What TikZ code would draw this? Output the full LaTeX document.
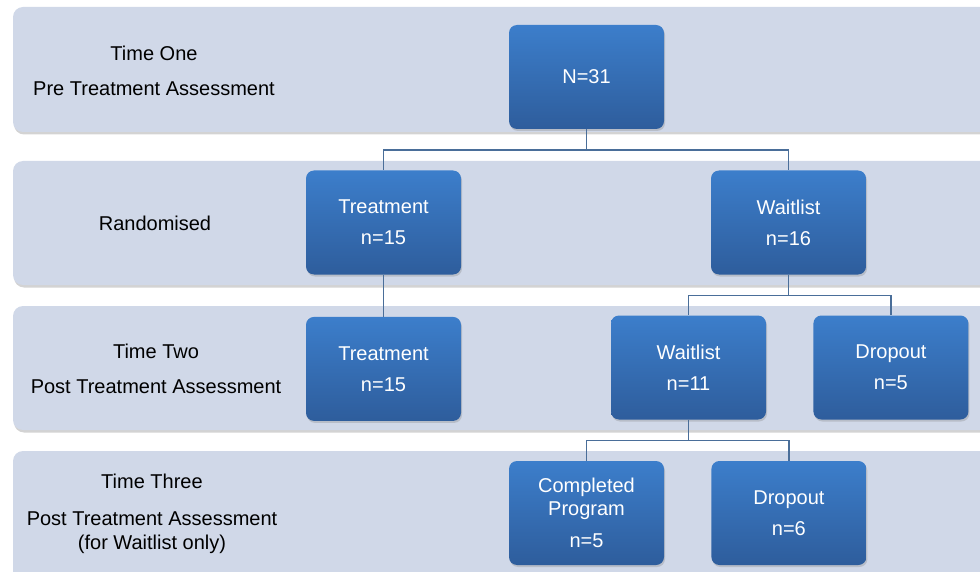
\documentclass[tikz,border=0pt]{standalone}
\usepackage{fontspec}
\setmainfont{Liberation Sans}
\usepackage{tikz}
\usetikzlibrary{positioning,shadows}

\definecolor{bandfill}{HTML}{D0D8E8}
\definecolor{boxtop}{HTML}{3C7ECB}
\definecolor{boxbottom}{HTML}{2E5D9C}
\definecolor{linkcol}{HTML}{4A6E99}

\begin{document}
\begin{tikzpicture}[
    x=1pt, y=-1pt,
    node distance=42pt,
    band/.style={fill=bandfill, rounded corners=10pt,
        drop shadow={opacity=0.35, shadow xshift=1pt, shadow yshift=-2.5pt}},
    box/.style={rectangle, rounded corners=8pt, top color=boxtop, bottom color=boxbottom,
        text=white, align=center, minimum width=155pt, minimum height=104pt,
        font=\fontsize{20}{23}\selectfont,
        drop shadow={opacity=0.3, shadow xshift=1pt, shadow yshift=-2pt}},
    label/.style={align=center, text=black, font=\fontsize{20}{24}\selectfont},
    link/.style={draw=linkcol, line width=1.5pt}
]

\useasboundingbox (0,0) rectangle (980,572);
\clip (0,0) rectangle (980,572);

% stage bands
\foreach \top/\bottom in {7/132, 161/285, 306/430, 451/590}
    \path[band] (13,\top) rectangle (1010,\bottom);

% stage labels
\node[label] (lblone) at (154,70.5) {Time One\\[11pt]Pre Treatment Assessment};
\node[label] (lblrand) at (155,223) {Randomised};
\node[label] (lbltwo) at (156,368.5) {Time Two\\[11pt]Post Treatment Assessment};
\node[label] (lblthree) at (152,513.5) {Time Three\\[13pt]Post Treatment Assessment\\(for Waitlist only)};

% boxes
\node[box] (total) at (586.5,77) {N=31};
\node[box] (treatA) at (383.5,222.5) {Treatment\\[8pt]n=15};
\node[box] (waitA) at (788.5,222.5) {Waitlist\\[8pt]n=16};
\node[box, below=of treatA] (treatB) {Treatment\\[8pt]n=15};
\node[box] (waitB) at (688.5,367.5) {Waitlist\\[8pt]n=11};
\node[box, right=47pt of waitB] (dropB) {Dropout\\[8pt]n=5};
\node[box] (completed) at (586.5,513) {Completed\\Program\\[9pt]n=5};
\node[box, right=47pt of completed] (dropC) {Dropout\\[8pt]n=6};

% connectors
\draw[link] (total.south) -- ++(0,21) -| (treatA.north);
\draw[link] (total.south) -- ++(0,21) -| (waitA.north);
\draw[link] (treatA.south) -- (treatB.north);
\draw[link] (waitA.south) -- ++(0,21) -| (waitB.north);
\draw[link] (waitA.south) -- ++(0,21) -| (dropB.north);
\draw[link] (waitB.south) -- ++(0,21) -| (completed.north);
\draw[link] (waitB.south) -- ++(0,21) -| (dropC.north);

\end{tikzpicture}
\end{document}
